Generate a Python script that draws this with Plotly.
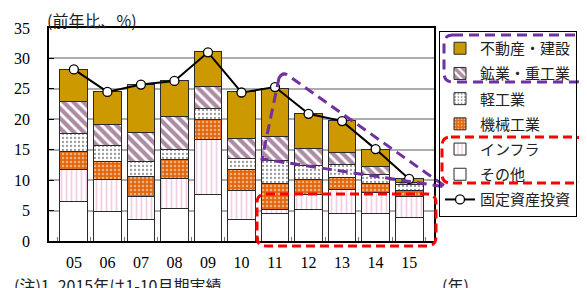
import plotly.graph_objects as go

# ---- data ----
years = ["05", "06", "07", "08", "09", "10", "11", "12", "13", "14", "15"]
real_estate = [5.3, 5.5, 7.8, 5.8, 5.7, 7.7, 7.9, 5.7, 5.2, 2.9, 0.6]   # 不動産・建設
heavy       = [5.3, 3.4, 4.9, 5.5, 3.6, 3.2, 4.0, 2.8, 2.1, 1.3, 0.3]   # 鉱業・重工業
light       = [2.9, 2.7, 2.4, 1.6, 1.9, 1.9, 3.7, 2.3, 2.1, 1.5, 1.0]   # 軽工業
machinery   = [3.0, 2.9, 3.3, 3.2, 3.3, 3.4, 4.3, 2.4, 2.0, 1.5, 1.0]   # 機械工業
infra       = [5.2, 5.3, 3.8, 4.9, 8.9, 4.7, 0.7, 2.5, 3.9, 3.4, 3.4]   # インフラ
other       = [6.5, 4.8, 3.5, 5.3, 7.7, 3.6, 4.5, 5.2, 4.5, 4.5, 3.9]   # その他
fai         = [28.2, 24.5, 25.7, 26.3, 31.0, 24.4, 25.3, 20.9, 19.7, 15.1, 10.2]  # 固定資産投資

names = ["不動産・建設", "鉱業・重工業", "軽工業", "機械工業", "インフラ", "その他", "固定資産投資"]

CJK = "Noto Sans CJK JP"
SERIF = "Liberation Serif"
OUTLINE = dict(color="#2b2b2b", width=1)

fig = go.Figure()

bar_specs = [
    (other, names[5], dict(color="white"), 6),
    (infra, names[4], dict(color="white", pattern=dict(shape="|", fgcolor="#E39FCB", bgcolor="white", size=5, solidity=0.35)), 5),
    (machinery, names[3], dict(color="#E2670E", pattern=dict(shape=".", fgcolor="white", bgcolor="#E2670E", size=4, solidity=0.3)), 4),
    (light, names[2], dict(color="white", pattern=dict(shape=".", fgcolor="#333333", bgcolor="white", size=4, solidity=0.25)), 3),
    (heavy, names[1], dict(color="white", pattern=dict(shape="\\", fgcolor="#5A1848", bgcolor="white", size=7, solidity=0.6)), 2),
    (real_estate, names[0], dict(color="#CC9900"), 1),
]
for vals, nm, mk, rank in bar_specs:
    mk = dict(mk)
    mk["line"] = OUTLINE
    fig.add_trace(go.Bar(x=years, y=vals, name=nm, marker=mk, legendrank=rank,
                         legendgroup=nm))

fig.add_trace(go.Scatter(x=years, y=fai, name=names[6], mode="lines+markers",
                         line=dict(color="black", width=2),
                         marker=dict(symbol="circle", size=9, color="white",
                                     line=dict(color="black", width=1.3)),
                         legendrank=7, legendgroup=names[6]))

# ---- decorations (reference-pixel -> paper helpers; plot area 49..434 x 28..241) ----
X0, X1, Y0, Y1 = 49, 434, 28, 241
def px(x): return (x - X0) / (X1 - X0)
def py(y): return (Y1 - y) / (Y1 - Y0)
def P(x, y): return f"{px(x):.5f},{py(y):.5f}"

def rrect(x0, y0, x1, y1, r):
    return (f"M {P(x0+r, y0)} L {P(x1-r, y0)} Q {P(x1, y0)} {P(x1, y0+r)} "
            f"L {P(x1, y1-r)} Q {P(x1, y1)} {P(x1-r, y1)} "
            f"L {P(x0+r, y1)} Q {P(x0, y1)} {P(x0, y1-r)} "
            f"L {P(x0, y0+r)} Q {P(x0, y0)} {P(x0+r, y0)} Z")

PURPLE = "#7030A0"
RED = "#FF0000"
shapes = [
    dict(type="path", xref="paper", yref="paper", path=rrect(257, 194, 436, 246, 9),
         line=dict(color=RED, width=3, dash="9px,5px"), layer="above"),
    dict(type="path", xref="paper", yref="paper",
         path=f"M {P(279, 78)} Q {P(283, 71)} {P(289, 76)} L {P(446, 187)} L {P(262, 159)} Z",
         line=dict(color=PURPLE, width=3, dash="10px,6px"), layer="above"),
    dict(type="path", xref="paper", yref="paper", path=rrect(444, 35, 584, 82, 9),
         line=dict(color=PURPLE, width=3, dash="10px,6px"), layer="above"),
    dict(type="path", xref="paper", yref="paper", path=rrect(442, 137, 584, 183, 9),
         line=dict(color=RED, width=3, dash="9px,5px"), layer="above"),
]

annotations = [
    dict(text="(前年比、%)", xref="paper", yref="paper", x=px(45), y=py(20),
         xanchor="left", yanchor="middle", showarrow=False,
         font=dict(family=CJK, size=16, color="#222")),
    dict(text="(注)1. 2015年は1-10月期実績", xref="paper", yref="paper", x=px(12), y=py(271),
         xanchor="left", yanchor="top", showarrow=False,
         font=dict(family=CJK, size=16, color="#222")),
    dict(text="(年)", xref="paper", yref="paper", x=px(440), y=py(271),
         xanchor="left", yanchor="top", showarrow=False,
         font=dict(family=CJK, size=16, color="#222")),
]

# the page body adds an 8px offset, so the figure is 8px smaller and shifted
fig.update_layout(
    width=579, height=280,
    margin=dict(l=41, r=153, t=20, b=47, autoexpand=False),
    paper_bgcolor="white", plot_bgcolor="white",
    barmode="stack", bargap=0.17,
    showlegend=True,
    legend=dict(x=px(439), y=py(31), xanchor="left", yanchor="top",
                bordercolor="black", borderwidth=1, bgcolor="rgba(255,255,255,0)",
                font=dict(family=CJK, size=15, color="#222"),
                traceorder="grouped", tracegroupgap=2.7, entrywidth=105),
    xaxis=dict(type="category", showline=True, linecolor="black", linewidth=1.5,
               mirror=True, ticks="inside", tickson="boundaries", ticklen=4,
               tickcolor="#777", showgrid=False,
               tickfont=dict(family=SERIF, size=16, color="black"),
               ticklabelstandoff=6),
    yaxis=dict(range=[0, 35], dtick=5, tick0=0, showgrid=True, gridcolor="#ADADAD",
               gridwidth=1.5, showline=True, linecolor="black", linewidth=1.5,
               mirror=True, ticks="inside", ticklen=5, tickcolor="black",
               zeroline=False,
               tickfont=dict(family=SERIF, size=16, color="black"),
               ticklabelstandoff=14),
    shapes=shapes,
    annotations=annotations,
)

fig.write_html("out.html")
